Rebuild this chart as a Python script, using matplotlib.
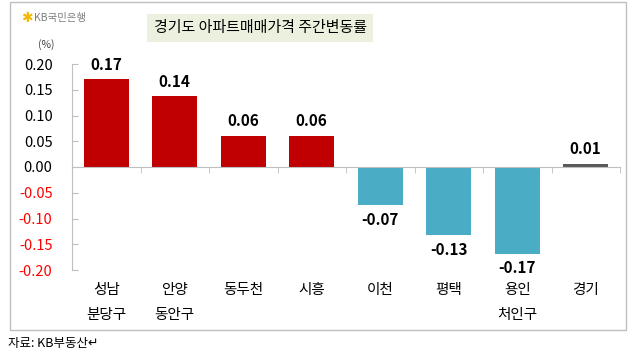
import matplotlib
matplotlib.use("Agg")
import matplotlib.pyplot as plt
import matplotlib.transforms as mtransforms
from matplotlib.patches import Rectangle
import numpy as np

plt.rcParams['font.family'] = ['Noto Sans CJK KR', 'DejaVu Sans']

categories = ["성남\n분당구", "안양\n동안구", "동두천", "시흥", "이천", "평택", "용인\n처인구", "경기"]
values = [0.170, 0.137, 0.061, 0.060, -0.074, -0.133, -0.168, 0.005]
value_labels = ["0.17", "0.14", "0.06", "0.06", "-0.07", "-0.13", "-0.17", "0.01"]
yticks = [-0.20, -0.15, -0.10, -0.05, 0.00, 0.05, 0.10, 0.15, 0.20]

def bar_color(i, v):
    if categories[i] == "경기":
        return "#595959"
    return "#C00000" if v >= 0 else "#4BACC6"

fig = plt.figure(figsize=(6.4, 3.54), dpi=100)
fig.patch.set_facecolor("white")

# outer frame
fig.add_artist(Rectangle((10/640, 1 - 330/354), 616/640, 328/354, transform=fig.transFigure,
                         fill=False, edgecolor="#BFBFBF", linewidth=1.0))

ax = fig.add_axes([72/640, 1 - 270/354, 548/640, 206/354])
x = np.arange(len(categories))
colors = [bar_color(i, v) for i, v in enumerate(values)]
ax.bar(x, values, width=0.66, color=colors, zorder=2)

ax.set_xlim(-0.5, len(categories) - 0.5)
ax.set_ylim(-0.2, 0.2)

for s in ["top", "right"]:
    ax.spines[s].set_visible(False)
ax.spines["left"].set_color("#BFBFBF")
ax.spines["bottom"].set_color("#BFBFBF")
ax.spines["bottom"].set_position(("data", 0))

ax.set_yticks(yticks)
ax.set_yticklabels([f"{t:.2f}" for t in yticks], fontsize=10.5)
for lab, t in zip(ax.get_yticklabels(), yticks):
    lab.set_color("red" if t < 0 else "black")
ax.tick_params(axis="y", direction="in", length=4, color="#BFBFBF", pad=14)

ax.set_xticks([])
ax.set_xticks(np.arange(len(categories) + 1) - 0.5, minor=True)
ax.tick_params(axis="x", which="minor", direction="out", length=4, color="#BFBFBF")

trans = mtransforms.blended_transform_factory(ax.transData, ax.transAxes)
for i, c in enumerate(categories):
    ax.text(x[i], -0.065, c, transform=trans, ha="center", va="top",
            fontsize=10.5, linespacing=2.0, color="black")

for i, (v, lab) in enumerate(zip(values, value_labels)):
    if v >= 0:
        ax.annotate(lab, (x[i], v), xytext=(0, 5), textcoords="offset points",
                    ha="center", va="bottom", fontsize=11, fontweight="bold")
    else:
        ax.annotate(lab, (x[i], v), xytext=(0, -5), textcoords="offset points",
                    ha="center", va="top", fontsize=11, fontweight="bold")

# title box
fig.text(260/640, 1 - 28/354, "경기도 아파트매매가격 주간변동률", ha="center", va="center",
         fontsize=10.8, color="black",
         bbox=dict(boxstyle="square,pad=0.45", facecolor="#EBF1DE", edgecolor="none"))

# logo
fig.text(27/640, 1 - 18/354, "✱", ha="center", va="center", fontsize=10, color="#F5B800")
fig.text(34/640, 1 - 18/354, "KB국민은행", ha="left", va="center", fontsize=7.5, color="#7F7F7F")

fig.text(46/640, 1 - 45/354, "(%)", ha="center", va="center", fontsize=7.5, color="#404040")

fig.text(8/640, 1 - 343/354, "자료: KB부동산↵", ha="left", va="center", fontsize=9, color="black")

fig.savefig("out.png", dpi=100)
